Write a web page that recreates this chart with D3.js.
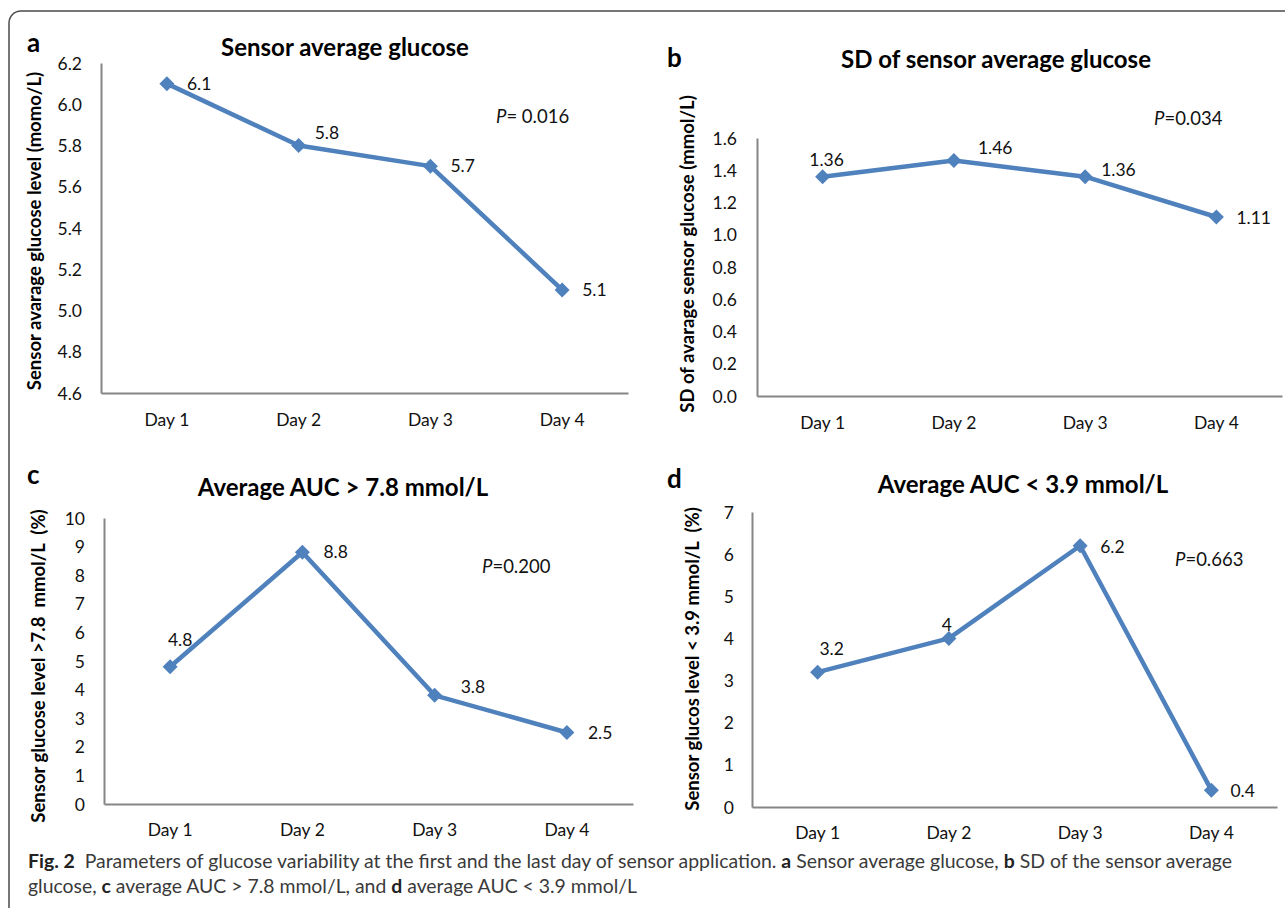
<!DOCTYPE html>
<html>
<head>
<meta charset="utf-8">
<script src="https://cdn.jsdelivr.net/npm/d3@7"></script>
<style>
  html, body { margin: 0; padding: 0; background: #fff; }
  svg { display: block; }
  text { font-family: Lato, "Open Sans", sans-serif; }
</style>
</head>
<body>
<svg id="chart" width="1285" height="908"></svg>
<script>
// ---------------- data ----------------
const days = ["Day 1", "Day 2", "Day 3", "Day 4"];

const avgGlucose = [6.1, 5.8, 5.7, 5.1];
const sdGlucose = [1.36, 1.46, 1.36, 1.11];
const aucAbove = [4.8, 8.8, 3.8, 2.5];
const aucBelow = [3.2, 4, 6.2, 0.4];

const avgGlucoseLabels = ["6.1", "5.8", "5.7", "5.1"];
const sdGlucoseLabels = ["1.36", "1.46", "1.36", "1.11"];
const aucAboveLabels = ["4.8", "8.8", "3.8", "2.5"];
const aucBelowLabels = ["3.2", "4", "6.2", "0.4"];

const avgGlucoseTicks = [4.6, 4.8, 5.0, 5.2, 5.4, 5.6, 5.8, 6.0, 6.2];
const sdGlucoseTicks = [0.0, 0.2, 0.4, 0.6, 0.8, 1.0, 1.2, 1.4, 1.6];
const aucAboveTicks = [0, 1, 2, 3, 4, 5, 6, 7, 8, 9, 10];
const aucBelowTicks = [0, 1, 2, 3, 4, 5, 6, 7];

const panelLetters = ["a", "b", "c", "d"];
const panelTitles = ["Sensor average glucose", "SD of sensor average glucose",
                     "Average AUC > 7.8 mmol/L", "Average AUC < 3.9 mmol/L"];
const yTitles = ["Sensor avarage glucose level (momo/L)",
                 "SD of avarage sensor glucose (mmol/L)",
                 "Sensor glucose level >7.8  mmol/L  (%)",
                 "Sensor glucos level < 3.9 mmol/L  (%)"];
const pValues = ["= 0.016", "=0.034", "=0.200", "=0.663"];

// ---------------- layout (positions / styles only) ----------------
const lineColor = "#4F81BD";
const axisColor = "#868686";

const panels = [
  { values: avgGlucose, labels: avgGlucoseLabels, ticks: avgGlucoseTicks, fmt: d3.format(".1f"),
    left: 101, right: 628, top: 63, bottom: 393, tickX: 82, dayY: 420,
    letter: [27, 52], title: [345, 56], p: [496, 123], yt: [35, 231], ytLen: 328,
    lab: [[20, 0, "start"], [16, -13, "start"], [20, 0, "start"], [20, 0, "start"]] },
  { values: sdGlucose, labels: sdGlucoseLabels, ticks: sdGlucoseTicks, fmt: d3.format(".1f"),
    left: 757, right: 1282, top: 138, bottom: 396, tickX: 737, dayY: 423,
    letter: [667, 67], title: [996, 68], p: [1154, 125], yt: [688, 254], ytLen: 325,
    lab: [[4, -17, "middle"], [24, -13, "start"], [16, -7, "start"], [20, 1, "start"]] },
  { values: aucAbove, labels: aucAboveLabels, ticks: aucAboveTicks, fmt: d3.format("d"),
    left: 104, right: 633, top: 518, bottom: 804, tickX: 85, dayY: 830,
    letter: [27, 484], title: [343, 496], p: [482, 573], yt: [39, 666], ytLen: 322,
    lab: [[10, -27, "middle"], [21, 0, "start"], [26, -8, "start"], [21, 0, "start"]] },
  { values: aucBelow, labels: aucBelowLabels, ticks: aucBelowTicks, fmt: d3.format("d"),
    left: 752, right: 1277, top: 512, bottom: 807, tickX: 734, dayY: 833,
    letter: [667, 488], title: [1023, 493], p: [1175, 566], yt: [693, 659], ytLen: 312,
    lab: [[14, -23, "middle"], [-2, -14, "middle"], [20, 1, "start"], [19, 1, "start"]] }
];

const svg = d3.select("#chart");

// outer frame
svg.append("rect")
  .attr("x", 9).attr("y", 11).attr("width", 1320).attr("height", 930)
  .attr("rx", 12).attr("ry", 12)
  .attr("fill", "none").attr("stroke", "#4a4a4a").attr("stroke-width", 1.5);

panels.forEach((p, i) => {
  const g = svg.append("g");
  const x = d3.scaleBand().domain(days).range([p.left, p.right]);
  const y = d3.scaleLinear().domain([p.ticks[0], p.ticks[p.ticks.length - 1]]).range([p.bottom, p.top]);

  const yAxis = g.append("g").attr("transform", `translate(${p.left},0)`)
    .call(d3.axisLeft(y).tickValues(p.ticks).tickFormat(p.fmt).tickSize(0).tickPadding(p.left - p.tickX));
  const xAxis = g.append("g").attr("transform", `translate(0,${p.bottom})`)
    .call(d3.axisBottom(x).tickSize(0));
  [yAxis, xAxis].forEach(ax => {
    ax.select(".domain").attr("stroke", axisColor).attr("stroke-width", 2);
    ax.selectAll("text").attr("font-family", "Lato, sans-serif").attr("font-size", 17.5).attr("fill", "#111");
  });
  xAxis.selectAll("text").attr("dy", "0.35em").attr("y", p.dayY - p.bottom);
  yAxis.selectAll("text").attr("dy", "0.35em");

  // line
  const line = d3.line().x((d, j) => x(days[j]) + x.bandwidth() / 2).y(d => y(d));
  g.append("path").datum(p.values)
    .attr("d", line).attr("fill", "none")
    .attr("stroke", lineColor).attr("stroke-width", 4.5).attr("stroke-linejoin", "round");

  // diamond markers
  g.selectAll(".mk").data(p.values).join("path")
    .attr("class", "mk")
    .attr("d", (d, j) => {
      const cx = x(days[j]) + x.bandwidth() / 2, cy = y(d);
      return `M${cx},${cy - 7.5}L${cx + 7.5},${cy}L${cx},${cy + 7.5}L${cx - 7.5},${cy}Z`;
    })
    .attr("fill", lineColor);

  // data labels
  g.selectAll(".lbl").data(p.values).join("text")
    .attr("class", "lbl")
    .attr("x", (d, j) => x(days[j]) + x.bandwidth() / 2 + p.lab[j][0])
    .attr("y", (d, j) => y(d) + p.lab[j][1])
    .attr("dy", "0.35em")
    .attr("text-anchor", (d, j) => p.lab[j][2])
    .attr("font-size", 17.5).attr("fill", "#111")
    .text((d, j) => p.labels[j]);

  // panel letter
  svg.append("text").attr("x", p.letter[0]).attr("y", p.letter[1])
    .attr("font-size", 26).attr("font-weight", 700).attr("fill", "#000")
    .attr("font-family", "'Open Sans', sans-serif")
    .text(panelLetters[i]);

  // title
  svg.append("text").attr("x", p.title[0]).attr("y", p.title[1])
    .attr("text-anchor", "middle").attr("font-size", 24).attr("font-weight", 700).attr("fill", "#000")
    .text(panelTitles[i]);

  // P value
  const pt = svg.append("text").attr("x", p.p[0]).attr("y", p.p[1])
    .attr("font-size", 18.5).attr("fill", "#111");
  pt.append("tspan").attr("font-style", "italic").text("P");
  pt.append("tspan").text(pValues[i]);

  // y title
  svg.append("text")
    .attr("transform", `translate(${p.yt[0]},${p.yt[1]}) rotate(-90)`)
    .attr("text-anchor", "middle").attr("dy", "0.35em")
    .attr("font-size", 18.5).attr("font-weight", 700).attr("fill", "#000")
    .style("white-space", "pre")
    .text(yTitles[i]);
});

// caption
const capFont = "'Open Sans', sans-serif";
const cap1 = svg.append("text").attr("x", 28).attr("y", 868)
  .attr("font-family", capFont).attr("font-size", 19).attr("fill", "#3a3a3a")
  .attr("textLength", 1204).attr("lengthAdjust", "spacingAndGlyphs")
  .style("white-space", "pre");
cap1.append("tspan").attr("font-weight", 700).attr("fill", "#222").text("Fig. 2");
cap1.append("tspan").text("  Parameters of glucose variability at the first and the last day of sensor application. ");
cap1.append("tspan").attr("font-weight", 700).attr("fill", "#222").text("a");
cap1.append("tspan").text(" Sensor average glucose, ");
cap1.append("tspan").attr("font-weight", 700).attr("fill", "#222").text("b");
cap1.append("tspan").text(" SD of the sensor average");

const cap2 = svg.append("text").attr("x", 28).attr("y", 893)
  .attr("font-family", capFont).attr("font-size", 19).attr("fill", "#3a3a3a")
  .attr("textLength", 609).attr("lengthAdjust", "spacingAndGlyphs")
  .style("white-space", "pre");
cap2.append("tspan").text("glucose, ");
cap2.append("tspan").attr("font-weight", 700).attr("fill", "#222").text("c");
cap2.append("tspan").text(" average AUC > 7.8 mmol/L, and ");
cap2.append("tspan").attr("font-weight", 700).attr("fill", "#222").text("d");
cap2.append("tspan").text(" average AUC < 3.9 mmol/L");
</script>
</body>
</html>
